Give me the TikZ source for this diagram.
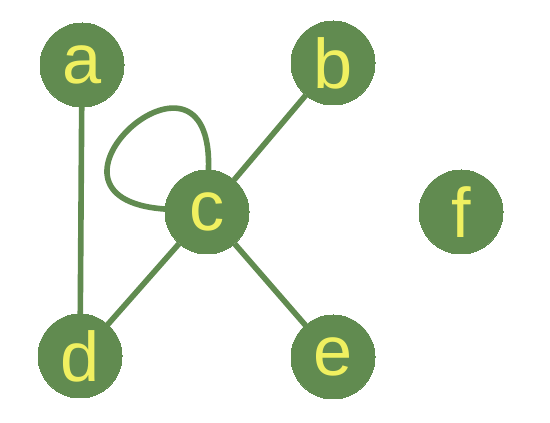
\documentclass[tikz,border=0pt]{standalone}
\usepackage{fontspec}
\setmainfont{Liberation Sans}
\usepackage{tikz}
\usepackage{tikz-network}

\definecolor{nodegreen}{RGB}{97,139,80}
\definecolor{labelyellow}{RGB}{240,240,96}

\begin{document}
\begin{tikzpicture}
		\useasboundingbox (0,0) rectangle (11,8.46);
		\SetVertexStyle[MinSize = 1.68cm, FillColor = nodegreen, LineColor = nodegreen, LineWidth = 0pt, TextColor = labelyellow, TextFont = \fontsize{40}{40}\selectfont]
		\SetEdgeStyle[Color = nodegreen, LineWidth = 3.2pt]
		\Vertex[label = a, x = 1.64, y = 7.16]{a}
		\Vertex[label = b, x = 6.66, y = 7.20]{b}
		\Vertex[label = c, x = 4.14, y = 4.22]{c}
		\Vertex[label = d, x = 1.60, y = 1.34]{d}
		\Vertex[label = e, x = 6.66, y = 1.32]{e}
		\Vertex[label = f, x = 9.22, y = 4.22]{f}
		\Edge(a)(d)
		\Edge(c)(b)
		\Edge(c)(d)
		\Edge(c)(e)
		\Edge[loopsize = 3.1cm, loopposition = 132, loopshape = 88](c)(c)
	\end{tikzpicture}
\end{document}
